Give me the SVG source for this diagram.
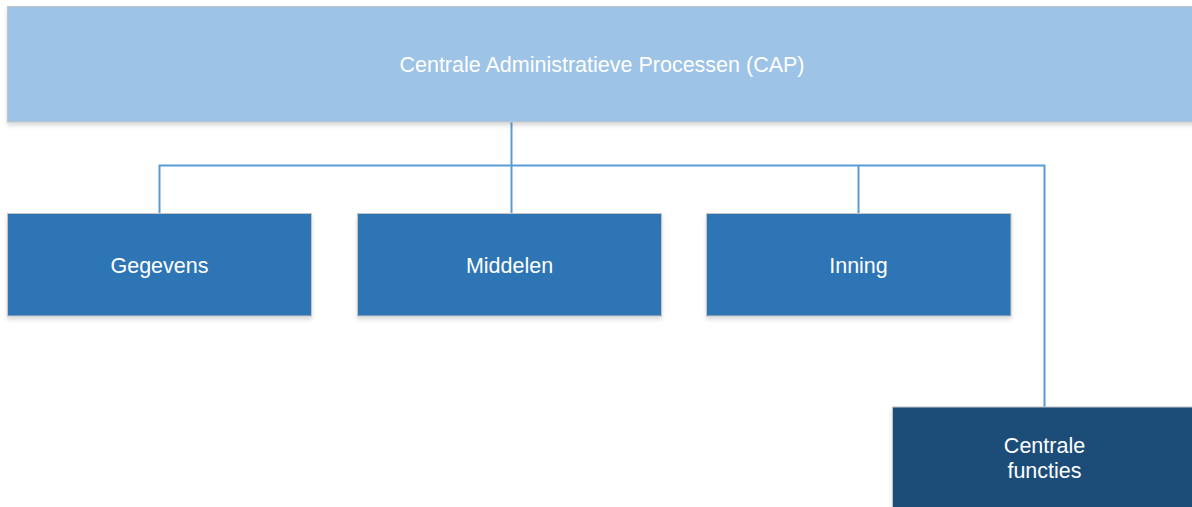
<svg xmlns="http://www.w3.org/2000/svg" width="1192" height="507" viewBox="0 0 1192 507">
  <defs>
    <filter id="shadow" x="-5%" y="-5%" width="110%" height="130%">
      <feGaussianBlur in="SourceAlpha" stdDeviation="2"/>
      <feOffset dy="3"/>
      <feComponentTransfer><feFuncA type="linear" slope="0.15"/></feComponentTransfer>
      <feMerge><feMergeNode/><feMergeNode in="SourceGraphic"/></feMerge>
    </filter>
  </defs>
  <style>
    .box { stroke: #c4c4c4; stroke-width: 1; filter: url(#shadow); }
    .top { fill: #9DC3E6; }
    .mid { fill: #2E75B6; }
    .dark { fill: #1F4E79; }
    .lbl { font-family: "Liberation Sans", Arial, sans-serif; font-size: 21.5px; fill: #ffffff; text-anchor: middle; }
    .conn { fill: none; stroke: #5B9BD5; stroke-width: 2; }
  </style>
  <rect width="1192" height="507" fill="#ffffff"/>

  <g id="connectors">
    <path class="conn" d="M511.5 122 V213"/>
    <path class="conn" d="M159.5 213 V165.5 H1044.5 V407"/>
    <path class="conn" d="M858.5 165.5 V213"/>
  </g>

  <g id="cap">
    <rect class="box top" x="7.5" y="6.5" width="1190" height="115.5"/>
    <text class="lbl" x="602" y="72">Centrale Administratieve Processen (CAP)</text>
  </g>

  <g id="gegevens">
    <rect class="box mid" x="7.5" y="213.5" width="304" height="102.5"/>
    <text class="lbl" x="159.5" y="273">Gegevens</text>
  </g>

  <g id="middelen">
    <rect class="box mid" x="357.5" y="213.5" width="304" height="102.5"/>
    <text class="lbl" x="509.5" y="273">Middelen</text>
  </g>

  <g id="inning">
    <rect class="box mid" x="706.5" y="213.5" width="304.5" height="102.5"/>
    <text class="lbl" x="858.5" y="273">Inning</text>
  </g>

  <g id="centrale-functies">
    <rect class="box dark" x="892.5" y="407" width="310" height="110"/>
    <text class="lbl" x="1044.5" y="453">Centrale</text>
    <text class="lbl" x="1044.5" y="478">functies</text>
  </g>
</svg>
